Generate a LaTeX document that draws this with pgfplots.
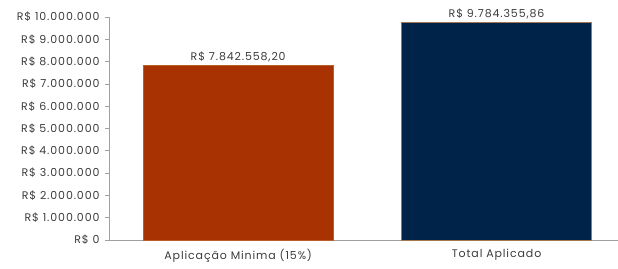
\documentclass[border=0pt]{standalone}
\usepackage{pgfplots}
\pgfplotsset{compat=1.18}
\usepackage{fontspec}
\setmainfont{Poppins}
\newfontfamily\lbl[LetterSpace=8]{Poppins}
\definecolor{barred}{RGB}{168,50,2}
\definecolor{barnavy}{RGB}{0,35,74}
\definecolor{edgegold}{RGB}{205,140,80}
\definecolor{axgray}{RGB}{160,160,160}
\definecolor{txt}{RGB}{60,60,60}
\begin{document}
\begin{tikzpicture}
\begin{axis}[
  name=ax,
  scale only axis,
  width=509pt, height=223pt,
  xmin=-0.5, xmax=1.47,
  ymin=0, ymax=10000000,
  axis lines*=left,
  axis line style={axgray, line width=0.8pt},
  ytick={0,1000000,2000000,3000000,4000000,5000000,6000000,7000000,8000000,9000000,10000000},
  yticklabels={R\$ 0,R\$ 1.000.000,R\$ 2.000.000,R\$ 3.000.000,R\$ 4.000.000,R\$ 5.000.000,R\$ 6.000.000,R\$ 7.000.000,R\$ 8.000.000,R\$ 9.000.000,R\$ 10.000.000},
  xtick={0,1},
  xticklabels={Aplicação Minima (15\%),Total Aplicado},
  x tick style={draw=none},
  extra x ticks={0.5},
  extra x tick labels={},
  extra x tick style={major tick style={draw=axgray, line width=0.6pt}, major tick length=4pt, tick align=outside},
  y tick style={axgray, line width=0.6pt},
  major tick length=4pt,
  tick align=outside,
  tick pos=left,
  ticklabel style={font=\lbl\fontsize{11}{12}\selectfont, text=txt},
  yticklabel style={xshift=-2pt},
  xticklabel style={yshift=-2pt},
  ybar, bar width=190pt, bar shift=0pt,
  point meta=explicit symbolic,
  nodes near coords,
  nodes near coords style={font=\lbl\fontsize{11}{12}\selectfont, text=txt, yshift=-1pt},
  scaled y ticks=false,
  clip=false,
]
\addplot[fill=barred, draw=edgegold!50!barred, line width=0.6pt, bar shift=0pt] coordinates {(0,7842558.20) [R\$ 7.842.558,20]};
\addplot[fill=barnavy, draw=edgegold!80!barnavy, line width=0.6pt, bar shift=0pt] coordinates {(1,9784355.86) [R\$ 9.784.355,86]};
\end{axis}
\pgfresetboundingbox
\path ([shift={(-109pt,-29pt)}]ax.south west) rectangle ([shift={(0pt,17pt)}]ax.north east);
\end{tikzpicture}
\end{document}
